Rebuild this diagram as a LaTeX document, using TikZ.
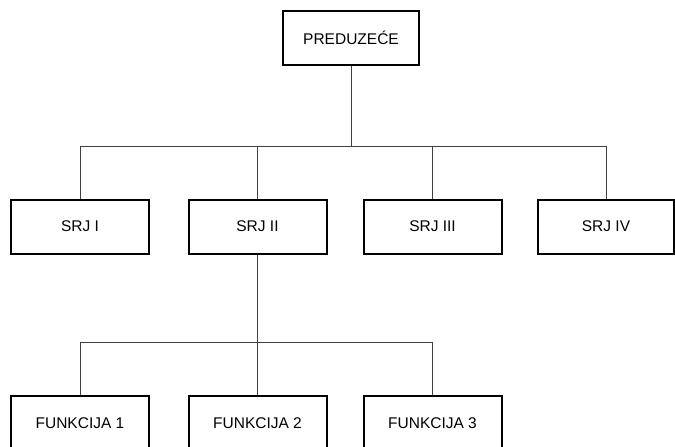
\documentclass[tikz,border=0pt]{standalone}
\usepackage{fontspec}
\setmainfont{Liberation Sans}
\begin{document}
\begin{tikzpicture}[x=1pt,y=-1pt,
  unitbox/.style={draw=black,line width=2pt,fill=white,minimum width=138pt,minimum height=54pt,inner sep=0pt,font=\fontsize{15.5}{18}\selectfont},
  link/.style={draw=black!75,line width=1pt}]
\useasboundingbox (0,0) rectangle (675,447);
\clip (0,0) rectangle (675,447);
% tree connectors
\coordinate (bus1) at (351,146);
\coordinate (bus2) at (257.5,342);
% boxes
\node[unitbox,minimum width=136pt] (top) at (351,38) {PREDUZEĆE};
\node[unitbox] (s1) at (80,226.5) {SRJ I};
\node[unitbox] (s2) at (257.5,226.5) {SRJ II};
\node[unitbox] (s3) at (432.5,226.5) {SRJ III};
\node[unitbox,minimum width=136pt] (s4) at (606,226.5) {SRJ IV};
\node[unitbox] (f1) at (80,423) {FUNKCIJA 1};
\node[unitbox] (f2) at (257.5,423) {FUNKCIJA 2};
\node[unitbox] (f3) at (432.5,423) {FUNKCIJA 3};
% first level
\draw[link] (top.south) -- (bus1);
\draw[link] (s1.north) |- (bus1);
\draw[link] (s2.north) |- (bus1);
\draw[link] (s3.north) |- (bus1);
\draw[link] (s4.north) |- (bus1);
% second level
\draw[link] (s2.south) -- (bus2);
\draw[link] (f1.north) |- (bus2);
\draw[link] (f2.north) -- (bus2);
\draw[link] (f3.north) |- (bus2);
\end{tikzpicture}
\end{document}
